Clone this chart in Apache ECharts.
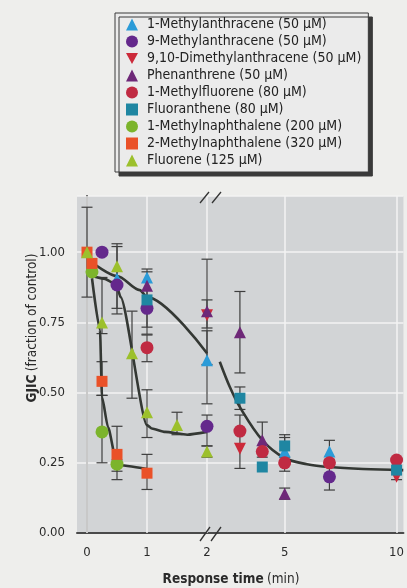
<!DOCTYPE html>
<html><head><meta charset="utf-8">
<script src="https://cdn.jsdelivr.net/npm/echarts@6/dist/echarts.min.js"></script>
<style>html,body{margin:0;padding:0;background:#eeeeec}#c{width:407px;height:588px}</style>
</head><body><div id="c"></div>
<script>
// ---------- data ----------
const seriesNames = [
  '1-Methylanthracene (50 \u03bcM)',
  '9-Methylanthracene (50 \u03bcM)',
  '9,10-Dimethylanthracene (50 \u03bcM)',
  'Phenanthrene (50 \u03bcM)',
  '1-Methylfluorene (80 \u03bcM)',
  'Fluoranthene (80 \u03bcM)',
  '1-Methylnaphthalene (200 \u03bcM)',
  '2-Methylnaphthalene (320 \u03bcM)',
  'Fluorene (125 \u03bcM)'
];
// [time (min), GJIC fraction of control]
const ma1 = [[0.5,0.905],[1,0.91],[2,0.615],[5,0.29],[7,0.29]];
const ma9 = [[0.25,1.0],[0.5,0.883],[1,0.80],[2,0.38],[7,0.20]];
const dma = [[2,0.775],[3,0.30],[10,0.20]];
const phe = [[1,0.88],[2,0.79],[3,0.715],[4,0.33],[5,0.14]];
const mf1 = [[1,0.66],[3,0.363],[4,0.29],[5,0.25],[7,0.25],[10,0.26]];
const fla = [[1,0.83],[3,0.48],[4,0.235],[5,0.31],[10,0.224]];
const mn1 = [[0.083,0.93],[0.25,0.36],[0.5,0.245]];
const mn2 = [[0,1.0],[0.083,0.96],[0.25,0.54],[0.5,0.28],[1,0.213]];
const flu = [[0,1.0],[0.25,0.75],[0.5,0.95],[0.75,0.64],[1,0.43],[1.5,0.385],[2,0.29]];
// error bars [time, low, high]
const ma1Err = [[0.5,0.80,1.02],[2,0.46,0.72],[7,0.26,0.33]];
const ma9Err = [[1,0.708,0.93],[2,0.31,0.42],[7,0.153,0.24]];
const dmaErr = [[2,0.73,0.83],[10,0.19,0.22]];
const pheErr = [[2,0.60,0.975],[3,0.57,0.86],[4,0.27,0.395],[5,0.12,0.16]];
const mf1Err = [[1,0.61,0.705],[3,0.23,0.42],[5,0.22,0.34]];
const flaErr = [[1,0.733,0.94],[3,0.44,0.52],[5,0.27,0.35]];
const mn1Err = [[0.25,0.25,0.49],[0.5,0.19,0.26]];
const mn2Err = [[0,0.84,1.16],[0.25,0.49,0.61],[0.5,0.22,0.38],[1,0.155,0.28]];
const fluErr = [[0.25,0.71,0.91],[0.5,0.78,1.03],[0.75,0.48,0.79],[1,0.34,0.51],[1.5,0.35,0.43],[2,0.27,0.31]];
// fitted curves
const curveSlowA = [[0.083,0.964],[0.5,0.915],[0.88,0.865],[1.0,0.84],[2.0,0.64]];
const curveSlowB = [[2.1,0.61],[2.55,0.52],[3,0.448],[4,0.331],[5,0.267],[6,0.245],[7,0.235],[8.5,0.228],[10.3,0.224]];
const curveMid = [[0.083,0.915],[0.3,0.905],[0.42,0.893],[0.5,0.875],[0.56,0.84],[1.0,0.384],[1.08,0.372],[1.3,0.36],[1.67,0.35],[2.0,0.36]];
const curveFast = [[0.083,0.907],[0.217,0.722],[0.25,0.484],[0.35,0.377],[0.5,0.242],[1.0,0.228]];
// axis ticks
const yTicks = [0, 0.25, 0.5, 0.75, 1.0];
const xTicksA = [0, 1, 2];
const xTicksB = [5, 10];

// ---------- styling ----------
const pts = [ma1, ma9, dma, phe, mf1, fla, mn1, mn2, flu];
const errs = [ma1Err, ma9Err, dmaErr, pheErr, mf1Err, flaErr, mn1Err, mn2Err, fluErr];
const colors = ['#2b9bd8','#64288c','#cc2a3a','#6e2878','#c02a42','#1f86a2','#7cb42c','#ea5128','#9cc02c'];
const symbols = ['triangle','circle','triangle','triangle','circle','rect','circle','rect','triangle'];
const rotations = [0,0,180,0,0,0,0,0,0];
const legendIcons = ['triangle','circle','path://M0,0L10,0L5,9Z','triangle','circle','rect','circle','rect','triangle'];
const sizes = [12,13,12,12,13,11,13,11,12];
const FONT = "'DejaVu Sans Condensed','Liberation Sans Narrow',sans-serif";
const BREAK_T = 2; // times <= 2 go in left panel

function errRender(params, api) {
  const t = api.value(0), lo = api.value(1), hi = api.value(2);
  const a = api.coord([t, hi]), b = api.coord([t, lo]);
  const w = 5.5;
  const st = {stroke: '#3e3e3e', lineWidth: 1.2};
  return {type: 'group', children: [
    {type: 'line', shape: {x1: a[0], y1: a[1], x2: b[0], y2: b[1]}, style: st},
    {type: 'line', shape: {x1: a[0]-w, y1: a[1], x2: a[0]+w, y2: a[1]}, style: st},
    {type: 'line', shape: {x1: b[0]-w, y1: b[1], x2: b[0]+w, y2: b[1]}, style: st}
  ]};
}

const series = [];
// vertical grid lines
[[0, xTicksA],[1, xTicksB]].forEach(([g, ticks]) => {
  series.push({type: 'line', xAxisIndex: g, yAxisIndex: g, data: [], silent: true, z: 1,
    markLine: {silent: true, z: 1, symbol: 'none', label: {show: false}, animation: false,
      lineStyle: {color: '#f3f3f3', width: 1.5, type: 'solid'},
      data: ticks.map(v => ({xAxis: v}))}});
});
// error bars
[0, 1].forEach(g => {
  const d = [];
  errs.forEach(arr => arr.forEach(e => { if ((g === 0) === (e[0] <= BREAK_T)) d.push(e); }));
  series.push({type: 'custom', xAxisIndex: g, yAxisIndex: g, data: d, renderItem: errRender, z: 2, silent: true});
});
// curves
[[0, curveSlowA, 0.3, 'x'],[1, curveSlowB, 0.35, null],[0, curveMid, 0.2, 'x'],[0, curveFast, 0.2, 'x']].forEach(([g, d, sm, mono]) => {
  const s = {type: 'line', xAxisIndex: g, yAxisIndex: g, data: d, showSymbol: false, smooth: sm,
    lineStyle: {color: '#343834', width: 2.6}, z: 3, silent: true};
  if (mono) s.smoothMonotone = mono;
  series.push(s);
});
// points
pts.forEach((arr, i) => {
  [0, 1].forEach(g => {
    series.push({type: 'scatter', name: seriesNames[i], xAxisIndex: g, yAxisIndex: g,
      data: arr.filter(p => (g === 0) === (p[0] <= BREAK_T)),
      symbol: symbols[i], symbolRotate: rotations[i], symbolSize: sizes[i],
      itemStyle: {color: colors[i], opacity: 1}, z: 4 + i});
  });
});

const axisLineStyle = {color: '#4a4a4a', width: 2};
const labelStyle = {fontFamily: FONT, fontSize: 13, color: '#2a2a2a'};
const titleRich = {
  b: {fontFamily: FONT, fontSize: 13.5, fontWeight: 'bold', fill: '#2a2a2a'},
  n: {fontFamily: FONT, fontSize: 13.5, fill: '#2a2a2a'}
};
const option = {
  backgroundColor: '#eeeeec',
  animation: false,
  grid: [
    {left: 77, top: 196, width: 137, bottom: 55, show: true, backgroundColor: '#d2d4d6', borderWidth: 0},
    {left: 214, top: 196, right: 0, bottom: 55, show: true, backgroundColor: '#d2d4d6', borderWidth: 0}
  ],
  xAxis: [
    {gridIndex: 0, type: 'value', min: -1/6, max: 2.1167,
      axisLine: {show: true, onZero: false, lineStyle: axisLineStyle}, axisTick: {show: false}, splitLine: {show: false},
      axisLabel: Object.assign({customValues: xTicksA, margin: 13, formatter: v => String(v)}, labelStyle)},
    {gridIndex: 1, type: 'value', min: 1.842, max: 10.307,
      axisLine: {show: true, onZero: false, lineStyle: axisLineStyle}, axisTick: {show: false}, splitLine: {show: false},
      axisLabel: Object.assign({customValues: xTicksB, margin: 13, formatter: v => String(v)}, labelStyle)}
  ],
  yAxis: [
    {gridIndex: 0, type: 'value', min: 0, max: 1.2, interval: 0.25,
      axisLine: {show: true, lineStyle: axisLineStyle}, axisTick: {show: false},
      splitLine: {show: true, lineStyle: {color: '#f3f3f3', width: 1.5}},
      axisLabel: Object.assign({margin: 12, formatter: v => yTicks.some(t => Math.abs(t - v) < 1e-6) ? v.toFixed(2) : ''}, labelStyle)},
    {gridIndex: 1, type: 'value', min: 0, max: 1.2, interval: 0.25,
      axisLine: {show: false}, axisTick: {show: false}, axisLabel: {show: false},
      splitLine: {show: true, lineStyle: {color: '#f3f3f3', width: 1.5}}}
  ],
  legend: {
    orient: 'vertical', left: 115, top: 13,
    data: seriesNames.map((n, i) => ({name: n, icon: legendIcons[i]})),
    itemWidth: 12, itemHeight: 12, itemGap: 0,
    padding: [3, 7, 3, 11],
    backgroundColor: '#ebebeb', borderColor: '#3a3a3a', borderWidth: 1,
    shadowColor: '#3a3a3a', shadowOffsetX: 4, shadowOffsetY: 4, shadowBlur: 0,
    textStyle: {fontFamily: FONT, fontSize: 14, color: '#222', lineHeight: 17, padding: [0, 0, 0, 4]}
  },
  graphic: [
    {type: 'text', x: 32, y: 328, rotation: Math.PI / 2, z: 10,
      style: {text: '{b|GJIC} {n|(fraction of control)}', align: 'center', verticalAlign: 'middle', rich: titleRich}},
    {type: 'text', x: 231, y: 579, z: 10,
      style: {text: '{b|Response time} {n|(min)}', align: 'center', verticalAlign: 'middle', rich: titleRich}},
    // axis-break marks
    {type: 'line', z: 10, shape: {x1: 200, y1: 541, x2: 210, y2: 527}, style: {stroke: '#333', lineWidth: 1.3}},
    {type: 'line', z: 10, shape: {x1: 211, y1: 541, x2: 221, y2: 527}, style: {stroke: '#333', lineWidth: 1.3}},
    {type: 'line', z: 10, shape: {x1: 200, y1: 203, x2: 209, y2: 192}, style: {stroke: '#333', lineWidth: 1.3}},
    {type: 'line', z: 10, shape: {x1: 212, y1: 203, x2: 221, y2: 192}, style: {stroke: '#333', lineWidth: 1.3}}
  ],
  series: series
};
echarts.init(document.getElementById('c'), null, {renderer: 'canvas'}).setOption(option);
</script></body></html>
